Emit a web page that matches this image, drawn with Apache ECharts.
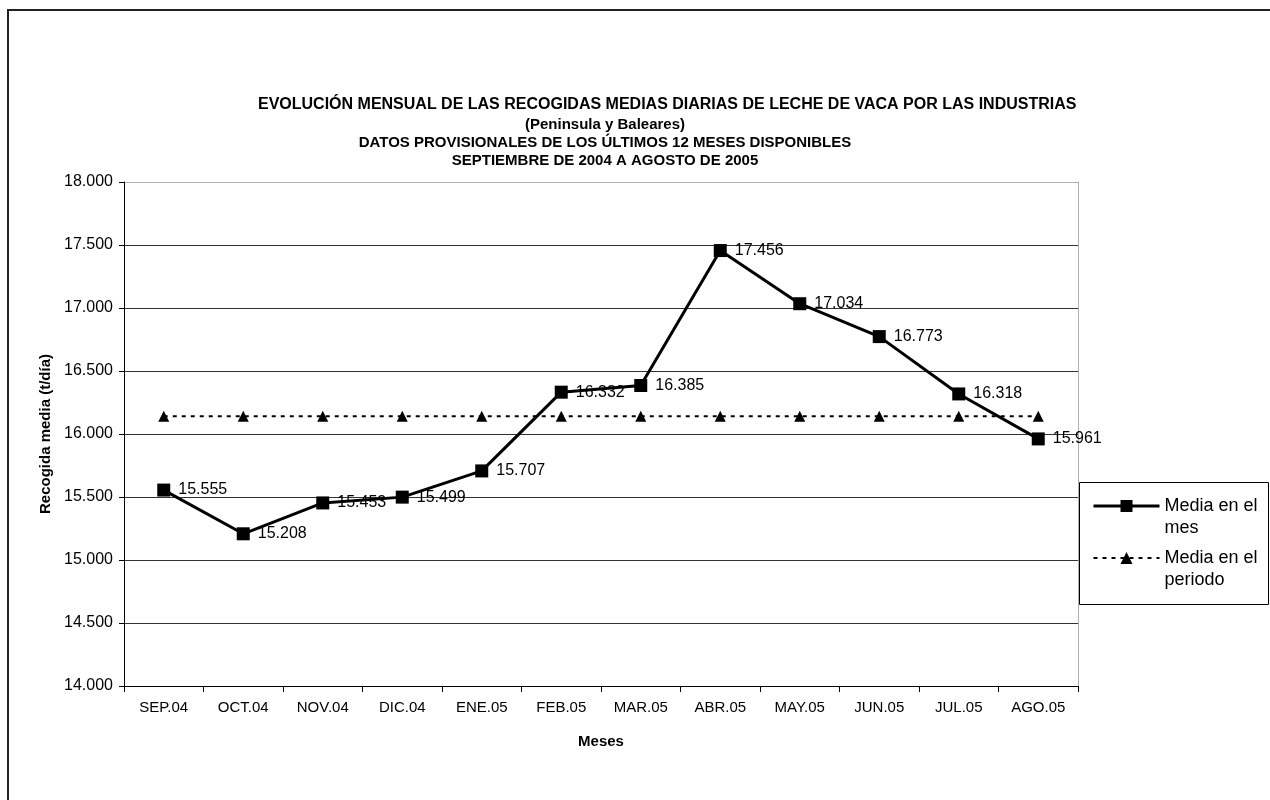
<!DOCTYPE html>
<html><head><meta charset="utf-8">
<script src="https://cdn.jsdelivr.net/npm/echarts@6/dist/echarts.min.js"></script>
<style>html,body{margin:0;padding:0;background:#fff}#c{width:1270px;height:800px}</style>
</head><body><div id="c"></div>
<script>
const categories = ['SEP.04','OCT.04','NOV.04','DIC.04','ENE.05','FEB.05','MAR.05','ABR.05','MAY.05','JUN.05','JUL.05','AGO.05'];
const mediaMes = [15.555,15.208,15.453,15.499,15.707,16.332,16.385,17.456,17.034,16.773,16.318,15.961];
const mediaPeriodo = [16.140,16.140,16.140,16.140,16.140,16.140,16.140,16.140,16.140,16.140,16.140,16.140];
const yMin = 14, yMax = 18, yInterval = 0.5;
const seriesNames = ['Media en el\nmes', 'Media en el\nperiodo'];
const titleLine1 = 'EVOLUCIÓN MENSUAL DE LAS RECOGIDAS MEDIAS DIARIAS DE LECHE DE VACA POR LAS INDUSTRIAS';
const titleRest = '(Peninsula y Baleares)\nDATOS PROVISIONALES DE LOS ÚLTIMOS 12 MESES DISPONIBLES\nSEPTIEMBRE DE 2004 A AGOSTO DE 2005';
const yName = 'Recogida media (t/día)';
const xName = 'Meses';

const FONT = "'Liberation Sans', Arial, sans-serif";
const chart = echarts.init(document.getElementById('c'), null, {renderer:'canvas'});
const fmt = v => v.toFixed(3);
chart.setOption({
  animation: false,
  backgroundColor: '#fff',
  textStyle: {fontFamily: FONT, color: '#000'},
  title: [
    {text: titleLine1, left: 253, top: 92, textStyle: {fontFamily: FONT, fontSize: 16, fontWeight: 'bold', color: '#000'}},
    {text: titleRest, left: 600, textAlign: 'center', top: 111, textStyle: {fontFamily: FONT, fontSize: 15, fontWeight: 'bold', color: '#000', lineHeight: 18}}
  ],
  graphic: [
    {type: 'rect', shape: {x: 8, y: 10, width: 1300, height: 850}, style: {fill: 'none', stroke: '#222', lineWidth: 2}, silent: true},
    {type: 'rect', shape: {x: 1079.5, y: 482.5, width: 189, height: 122}, style: {fill: 'none', stroke: '#000', lineWidth: 1}, silent: true}
  ],
  grid: {left: 124, right: 192, top: 182, bottom: 114, containLabel: false},
  legend: {
    orient: 'vertical', left: 1092, top: 473,
    data: [
      {name: seriesNames[0], lineStyle: {width: 3}},
      {name: seriesNames[1], lineStyle: {width: 2}}
    ],
    formatter: n => '\n' + n,
    itemWidth: 66, itemHeight: 15, itemGap: -14,
    borderWidth: 0,
    padding: 0,
    textStyle: {fontFamily: FONT, fontSize: 18, lineHeight: 22, color: '#000'}
  },
  xAxis: {
    type: 'category', data: categories, boundaryGap: true,
    name: xName, nameLocation: 'middle', nameGap: 48,
    nameTextStyle: {fontFamily: FONT, fontSize: 15, fontWeight: 'bold', color: '#000'},
    axisLine: {lineStyle: {color: '#000', width: 1}},
    axisTick: {show: true, length: 6, alignWithLabel: false, lineStyle: {color: '#000'}},
    axisLabel: {fontFamily: FONT, fontSize: 15, color: '#000', margin: 14}
  },
  yAxis: [{
    type: 'value', min: yMin, max: yMax, interval: yInterval,
    name: yName, nameLocation: 'middle', nameGap: 70,
    nameTextStyle: {fontFamily: FONT, fontSize: 15, fontWeight: 'bold', color: '#000'},
    axisLine: {show: true, lineStyle: {color: '#000', width: 1}},
    axisTick: {show: true, length: 5, lineStyle: {color: '#000'}},
    axisLabel: {fontFamily: FONT, fontSize: 16, color: '#000', margin: 11, formatter: fmt},
    splitLine: {show: true, lineStyle: {color: ['#333','#333','#333','#333','#333','#333','#333','#333','#b0b0b0'], width: 1}}
  }, {
    type: 'value', min: yMin, max: yMax, interval: yInterval, position: 'right',
    axisLine: {show: true, lineStyle: {color: '#b0b0b0', width: 1}},
    axisTick: {show: false}, axisLabel: {show: false}, splitLine: {show: false}
  }],
  series: [
    {
      name: seriesNames[0], type: 'line', data: mediaMes,
      symbol: 'rect', symbolSize: 13,
      lineStyle: {color: '#000', width: 3},
      itemStyle: {color: '#000'},
      label: {show: true, position: 'right', distance: 8, fontFamily: FONT, fontSize: 16, color: '#000', formatter: p => fmt(p.value)},
      z: 3
    },
    {
      name: seriesNames[1], type: 'line', data: mediaPeriodo,
      symbol: 'triangle', symbolSize: 11,
      lineStyle: {color: '#000', width: 2, type: [4, 5]},
      itemStyle: {color: '#000'},
      z: 2
    }
  ]
});
</script></body></html>
